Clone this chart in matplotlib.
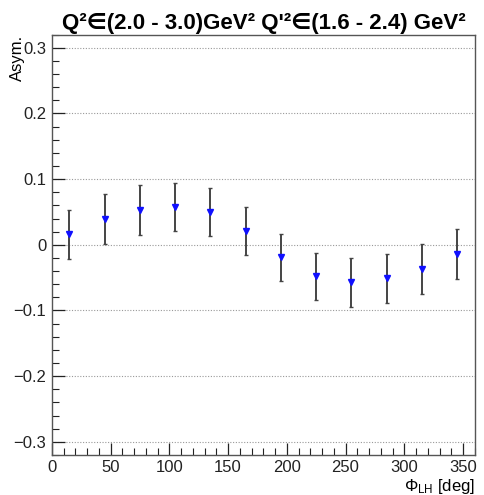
import numpy as np
import matplotlib.pyplot as plt
from matplotlib.ticker import MultipleLocator, FuncFormatter

plt.rcParams["font.family"] = ["Liberation Sans", "DejaVu Sans"]
plt.rcParams["mathtext.fontset"] = "custom"
plt.rcParams["mathtext.rm"] = "Liberation Sans"
plt.rcParams["mathtext.it"] = "Liberation Sans"

# bins en Phi_LH (deg) et asymétrie mesurée
phi      = [15, 45, 75, 105, 135, 165, 195, 225, 255, 285, 315, 345]
asym     = [0.016, 0.039, 0.053, 0.058, 0.050, 0.021,
            -0.019, -0.048, -0.057, -0.051, -0.037, -0.014]
asym_err = [0.0375, 0.0385, 0.0375, 0.0365, 0.0365, 0.037,
            0.0355, 0.036, 0.037, 0.0375, 0.0385, 0.0385]

fig = plt.figure(figsize=(4.84, 4.95), dpi=100)
ax = fig.add_axes([0.107, 0.081, 0.874, 0.849])

ax.errorbar(phi, asym, yerr=asym_err, fmt="none", ecolor="#444444",
            elinewidth=1.4, capsize=1.5, capthick=1.0, zorder=2)
ax.plot(phi, asym, ls="none", marker="v", ms=5, color="#1010ff", zorder=3)

ax.set_xlim(0, 360)
ax.set_ylim(-0.32, 0.32)
ax.xaxis.set_major_locator(MultipleLocator(50))
ax.xaxis.set_minor_locator(MultipleLocator(10))
ax.yaxis.set_major_locator(MultipleLocator(0.1))
ax.yaxis.set_minor_locator(MultipleLocator(0.02))
ax.yaxis.set_major_formatter(FuncFormatter(
    lambda v, p: "0" if abs(v) < 1e-9 else f"{v:.1f}".replace("-", "\u2212")))

ax.tick_params(which="both", direction="in", top=False, right=False,
               labelsize=12, colors="#222222", pad=4)
ax.tick_params(which="major", length=9, width=0.9)
ax.tick_params(which="minor", length=5, width=0.8)
for s in ax.spines.values():
    s.set_color("#555555")
    s.set_linewidth(1.0)

ax.yaxis.grid(True, ls=(0, (1, 1.5)), color="#999999", lw=0.8)
ax.set_axisbelow(True)

# labels placés à la main (style ROOT)
fig.text(17 / 484, 1 - 35 / 495, "Asym.", rotation=90,
         ha="center", va="top", fontsize=12)
fig.text(475 / 484, 1 - 487 / 495, r"$\Phi_{\rm LH}$ [deg]",
         ha="right", va="center", fontsize=12)

fig.text(0.545, 1 - 29 / 495,
         "Q\u00b2\u2208(2.0 - 3.0)GeV\u00b2 Q'\u00b2\u2208(1.6 - 2.4) GeV\u00b2",
         ha="center", va="baseline", fontsize=16, fontweight="bold")

plt.savefig("out.png", dpi=100)
plt.close()
